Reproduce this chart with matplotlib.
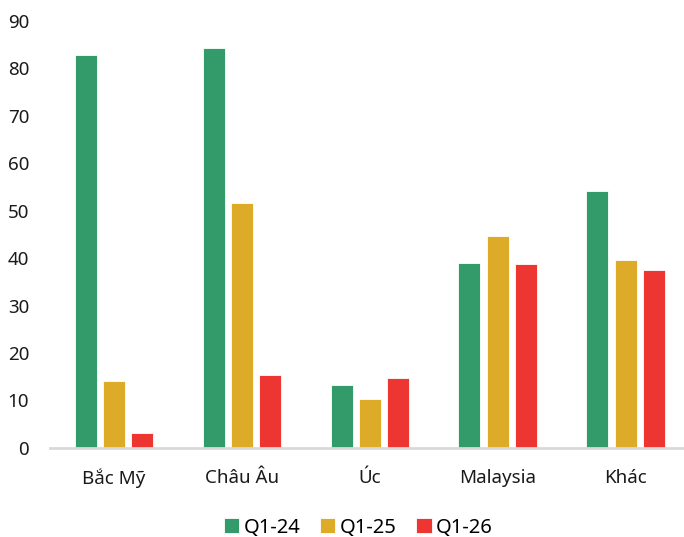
import numpy as np
import matplotlib
matplotlib.use('Agg')
import matplotlib.pyplot as plt

plt.rcParams['font.family'] = ['Noto Sans', 'DejaVu Sans']

# số liệu theo thị trường
regions = ['Bắc Mỹ', 'Châu Âu', 'Úc', 'Malaysia', 'Khác']
series_names = ['Q1-24', 'Q1-25', 'Q1-26']
q1_24 = [82.8, 84.4, 13.2, 39.0, 54.1]
q1_25 = [14.1, 51.7, 10.2, 44.7, 39.7]
q1_26 = [3.2, 15.4, 14.7, 38.8, 37.6]
colors = ['#339a69', '#ddab27', '#ed3531']

fig = plt.figure(figsize=(6.84, 5.37), dpi=100)
ax = fig.add_axes([0.073, 0.166, 0.935, 0.795])

x = np.arange(len(regions))
w = 0.172
step = 0.22
for i, (vals, name, c) in enumerate(zip([q1_24, q1_25, q1_26], series_names, colors)):
    ax.bar(x + (i - 1) * step, vals, width=w, color=c, edgecolor='white',
           linewidth=0.6, label=name, zorder=2)

ax.set_xlim(-0.5, len(regions) - 0.5)
ax.set_ylim(0, 90)
ax.set_yticks(range(0, 91, 10))
ax.set_xticks(x)
ax.set_xticklabels(regions)
ax.tick_params(axis='both', length=0, labelsize=13.5, colors='#1a1a1a')
ax.tick_params(axis='y', pad=15)
ax.tick_params(axis='x', pad=15)

for side in ['top', 'right', 'left']:
    ax.spines[side].set_visible(False)
ax.spines['bottom'].set_color('#d9d9d9')
ax.spines['bottom'].set_linewidth(2)

fig.legend(loc='lower center', bbox_to_anchor=(0.524, -0.035), ncol=3, frameon=False,
           fontsize=14.5, handlelength=0.75, handleheight=0.75, handletextpad=0.2,
           columnspacing=1.0)

fig.savefig('out.png', dpi=100)
